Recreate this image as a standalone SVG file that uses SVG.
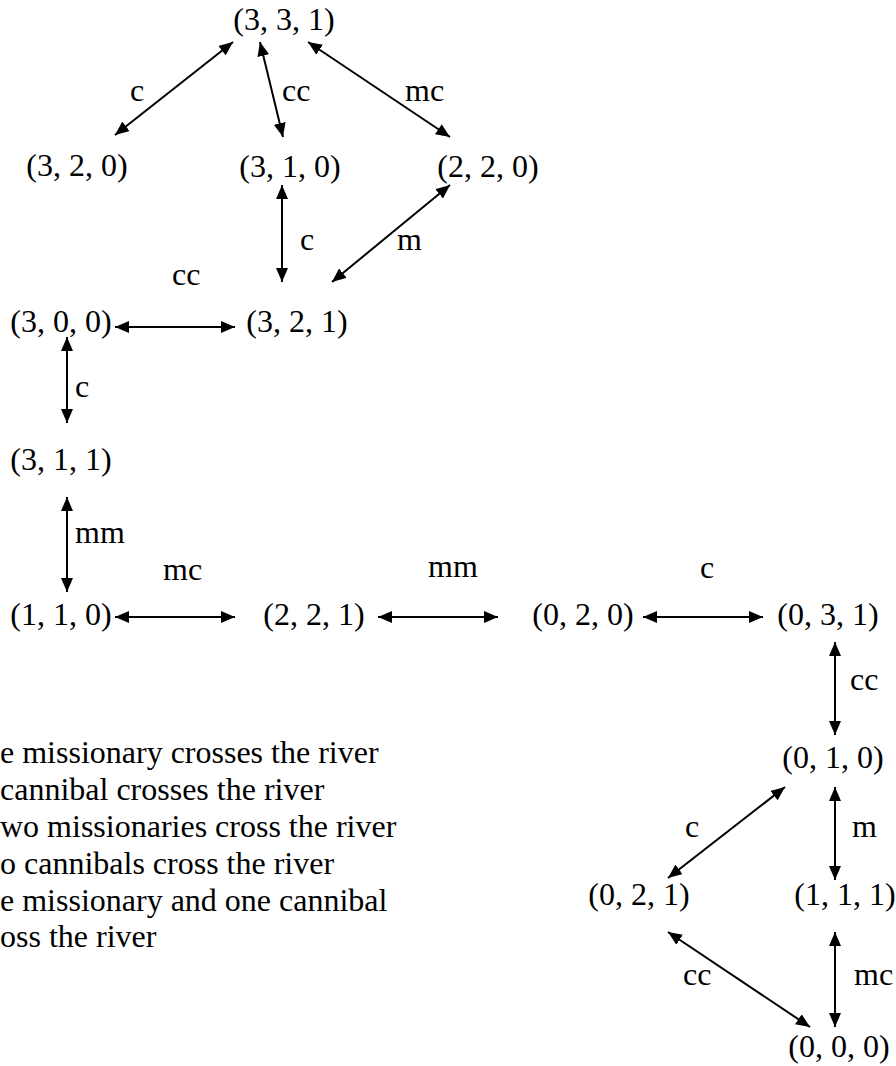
<svg xmlns="http://www.w3.org/2000/svg" width="896" height="1066" viewBox="0 0 896 1066">
<style>
text{font-family:"Liberation Serif","Times New Roman",serif;font-size:32px;fill:#000}
.n{text-anchor:middle}
.e line{stroke:#000;stroke-width:2;marker-start:url(#a);marker-end:url(#a)}
</style>
<defs>
<marker id="a" markerUnits="userSpaceOnUse" markerWidth="14" markerHeight="12" viewBox="0 0 14 12" refX="14" refY="6" orient="auto-start-reverse">
<path d="M0,0 L14,6 L0,12 z" fill="#000"/>
</marker>
</defs>
<rect width="896" height="1066" fill="#fff"/>
<g id="connectors" class="e">
<line x1="233" y1="42" x2="115" y2="135"/>
<line x1="260" y1="42" x2="283" y2="137"/>
<line x1="308" y1="42" x2="450" y2="137"/>
<line x1="282" y1="185" x2="282" y2="282"/>
<line x1="450" y1="185" x2="332" y2="282"/>
<line x1="115" y1="327" x2="235" y2="327"/>
<line x1="67" y1="337" x2="67" y2="423"/>
<line x1="67" y1="497" x2="67" y2="592"/>
<line x1="115" y1="617" x2="235" y2="617"/>
<line x1="378" y1="617" x2="498" y2="617"/>
<line x1="643" y1="617" x2="763" y2="617"/>
<line x1="835" y1="642" x2="835" y2="735"/>
<line x1="785" y1="787" x2="668" y2="878"/>
<line x1="835" y1="787" x2="835" y2="880"/>
<line x1="668" y1="932" x2="810" y2="1027"/>
<line x1="835" y1="932" x2="835" y2="1027"/>
</g>
<g id="edge-labels">
<text x="130" y="101">c</text>
<text x="282" y="101">cc</text>
<text x="405" y="101">mc</text>
<text x="300" y="250">c</text>
<text x="397" y="250">m</text>
<text x="172" y="285">cc</text>
<text x="75" y="397">c</text>
<text x="75" y="543">mm</text>
<text x="163" y="580">mc</text>
<text x="428" y="577">mm</text>
<text x="700" y="578">c</text>
<text x="850" y="690">cc</text>
<text x="685" y="837">c</text>
<text x="852" y="837">m</text>
<text x="683" y="985">cc</text>
<text x="854" y="985">mc</text>
</g>
<g id="n331"><text class="n" x="284" y="30">(3, 3, 1)</text></g>
<g id="n320"><text class="n" x="77" y="176">(3, 2, 0)</text></g>
<g id="n310"><text class="n" x="290" y="177">(3, 1, 0)</text></g>
<g id="n220"><text class="n" x="488" y="177">(2, 2, 0)</text></g>
<g id="n300"><text class="n" x="61" y="332">(3, 0, 0)</text></g>
<g id="n321"><text class="n" x="297" y="332">(3, 2, 1)</text></g>
<g id="n311"><text class="n" x="61" y="470">(3, 1, 1)</text></g>
<g id="n110"><text class="n" x="61" y="625">(1, 1, 0)</text></g>
<g id="n221"><text class="n" x="314" y="625">(2, 2, 1)</text></g>
<g id="n020"><text class="n" x="583" y="625">(0, 2, 0)</text></g>
<g id="n031"><text class="n" x="828" y="625">(0, 3, 1)</text></g>
<g id="n010"><text class="n" x="833" y="768">(0, 1, 0)</text></g>
<g id="n021"><text class="n" x="639" y="905">(0, 2, 1)</text></g>
<g id="n111"><text class="n" x="845" y="905">(1, 1, 1)</text></g>
<g id="n000"><text class="n" x="839" y="1057">(0, 0, 0)</text></g>
<g id="legend">
<text x="0" y="763">e missionary crosses the river</text>
<text x="0" y="800">cannibal crosses the river</text>
<text x="0" y="837">wo missionaries cross the river</text>
<text x="0" y="874">o cannibals cross the river</text>
<text x="0" y="911">e missionary and one cannibal</text>
<text x="0" y="947">oss the river</text>
</g>
</svg>
